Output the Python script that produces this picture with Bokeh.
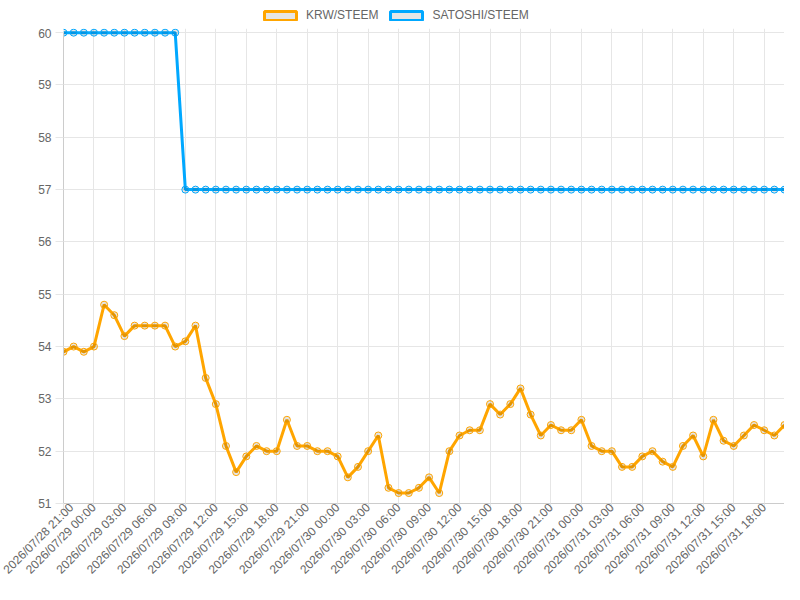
import math
from bokeh.plotting import figure
from bokeh.layouts import column
from bokeh.models import (ColumnDataSource, Legend, LegendItem, FixedTicker, Range1d)
from bokeh.embed import file_html
from bokeh.resources import INLINE

# ---- data ----
krw_steem = [53.9, 54.0, 53.9, 54.0, 54.8, 54.6, 54.2, 54.4, 54.4, 54.4, 54.4, 54.0,
             54.1, 54.4, 53.4, 52.9, 52.1, 51.6, 51.9, 52.1, 52.0, 52.0, 52.6, 52.1,
             52.1, 52.0, 52.0, 51.9, 51.5, 51.7, 52.0, 52.3, 51.3, 51.2, 51.2, 51.3,
             51.5, 51.2, 52.0, 52.3, 52.4, 52.4, 52.9, 52.7, 52.9, 53.2, 52.7, 52.3,
             52.5, 52.4, 52.4, 52.6, 52.1, 52.0, 52.0, 51.7, 51.7, 51.9, 52.0, 51.8,
             51.7, 52.1, 52.3, 51.9, 52.6, 52.2, 52.1, 52.3, 52.5, 52.4, 52.3, 52.5]
satoshi_steem = [60, 60, 60, 60, 60, 60, 60, 60, 60, 60, 60, 60,
                 57, 57, 57, 57, 57, 57, 57, 57, 57, 57, 57, 57,
                 57, 57, 57, 57, 57, 57, 57, 57, 57, 57, 57, 57,
                 57, 57, 57, 57, 57, 57, 57, 57, 57, 57, 57, 57,
                 57, 57, 57, 57, 57, 57, 57, 57, 57, 57, 57, 57,
                 57, 57, 57, 57, 57, 57, 57, 57, 57, 57, 57, 57]
tick_labels = ["2026/07/28 21:00", "2026/07/29 00:00", "2026/07/29 03:00", "2026/07/29 06:00",
               "2026/07/29 09:00", "2026/07/29 12:00", "2026/07/29 15:00", "2026/07/29 18:00",
               "2026/07/29 21:00", "2026/07/30 00:00", "2026/07/30 03:00", "2026/07/30 06:00",
               "2026/07/30 09:00", "2026/07/30 12:00", "2026/07/30 15:00", "2026/07/30 18:00",
               "2026/07/30 21:00", "2026/07/31 00:00", "2026/07/31 03:00", "2026/07/31 06:00",
               "2026/07/31 09:00", "2026/07/31 12:00", "2026/07/31 15:00", "2026/07/31 18:00"]
y_ticks = [51, 52, 53, 54, 55, 56, 57, 58, 59, 60]
series_names = ["KRW/STEEM", "SATOSHI/STEEM"]

ORANGE = "#FFA500"
BLUE = "#00A8FF"
FONT = "Liberation Sans"
TXT = "#666666"
W = 784

idx = list(range(len(krw_steem)))
tick_pos = [i * 3 for i in range(len(tick_labels))]

# ---- legend strip ----
lg = figure(width=W, height=28, output_backend="svg", toolbar_location=None,
            x_range=Range1d(0, 1), y_range=Range1d(0, 1),
            x_axis_location=None, y_axis_location=None,
            min_border=0, min_border_left=0, min_border_right=0,
            min_border_top=0, min_border_bottom=0)
lg.outline_line_color = None
lg.grid.visible = False
# legend proxy glyphs placed outside the visible range
proxy = ColumnDataSource(dict(l=[10], r=[11], b=[10], t=[11]))
r1 = lg.quad(left="l", right="r", bottom="b", top="t", source=proxy,
             fill_color="#e6e6e6", line_color=ORANGE, line_width=3)
r2 = lg.quad(left="l", right="r", bottom="b", top="t", source=proxy,
             fill_color="#e6e6e6", line_color=BLUE, line_width=3)
legend = Legend(items=[LegendItem(label=series_names[0], renderers=[r1]),
                       LegendItem(label=series_names[1], renderers=[r2])],
                orientation="horizontal", location=(197, 6),
                glyph_width=40, glyph_height=11, label_standoff=6, spacing=8,
                padding=0, margin=0, border_line_color=None,
                background_fill_alpha=0,
                label_text_font=FONT, label_text_font_size="12px",
                label_text_color=TXT, label_height=11)
lg.add_layout(legend, "center")

# ---- main chart ----
src = ColumnDataSource(dict(x=idx, krw=krw_steem, sat=satoshi_steem))

p = figure(width=W, height=556, output_backend="svg", toolbar_location=None,
           x_range=Range1d(0, len(idx) - 1), y_range=Range1d(51, 60.08),
           min_border_left=63, min_border_right=0, min_border_bottom=81, min_border_top=0)
p.outline_line_color = None
p.background_fill_color = "white"

p.line("x", "krw", source=src, line_color=ORANGE, line_width=3)
p.scatter("x", "krw", source=src, size=7, line_color=ORANGE, line_width=1,
          fill_color="black", fill_alpha=0.1)
p.line("x", "sat", source=src, line_color=BLUE, line_width=3)
p.scatter("x", "sat", source=src, size=7, line_color=BLUE, line_width=1,
          fill_color="black", fill_alpha=0.1)

# x axis
p.xaxis.ticker = FixedTicker(ticks=tick_pos)
p.xaxis.major_label_overrides = {t: l for t, l in zip(tick_pos, tick_labels)}
p.xaxis.major_label_orientation = math.pi / 4
p.xaxis.minor_tick_line_color = None
p.xaxis.major_tick_out = 8
p.xaxis.major_tick_in = 0
p.xaxis.major_tick_line_color = "#e6e6e6"
p.xaxis.axis_line_color = "#cccccc"
p.xaxis.major_label_standoff = -6

# y axis
p.yaxis.ticker = FixedTicker(ticks=y_ticks)
p.yaxis.bounds = (51, 60)
p.yaxis.minor_tick_line_color = None
p.yaxis.major_tick_out = 8
p.yaxis.major_tick_in = 0
p.yaxis.major_tick_line_color = "#e6e6e6"
p.yaxis.axis_line_color = "#cccccc"
p.yaxis.major_label_standoff = 4

for ax in (p.xaxis, p.yaxis):
    ax.major_label_text_font = FONT
    ax.major_label_text_font_size = "12px"
    ax.major_label_text_color = TXT

p.xgrid.ticker = FixedTicker(ticks=tick_pos)
p.ygrid.ticker = FixedTicker(ticks=y_ticks)
p.grid.grid_line_color = "#e6e6e6"
p.grid.grid_line_width = 1

open("out.html", "w").write(file_html(column(lg, p, spacing=0), INLINE))
